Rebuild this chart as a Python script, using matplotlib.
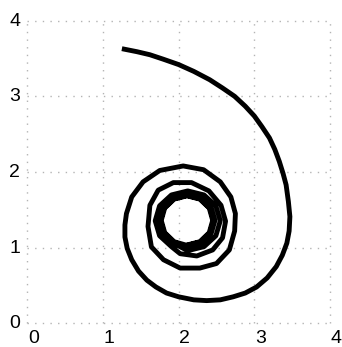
import matplotlib
matplotlib.use("Agg")
import matplotlib.pyplot as plt
import matplotlib.transforms as mtransforms

# Trajectory points (x, y), in drawing order
x_outer = [1.25, 1.45, 1.62, 1.80, 2.00, 2.20, 2.41, 2.58, 2.74, 2.88, 3.00, 3.10,
           3.20, 3.27, 3.33, 3.38, 3.42, 3.45, 3.47, 3.46, 3.43, 3.37, 3.29, 3.17,
           3.03, 2.88, 2.72, 2.55, 2.37, 2.20]
y_outer = [3.63, 3.59, 3.55, 3.49, 3.42, 3.33, 3.22, 3.11, 3.00, 2.87, 2.74, 2.60,
           2.45, 2.30, 2.14, 1.98, 1.83, 1.61, 1.41, 1.22, 1.06, 0.90, 0.75, 0.60,
           0.48, 0.40, 0.35, 0.31, 0.30, 0.31]

x_loop1 = [2.00, 1.84, 1.70, 1.58, 1.47, 1.38, 1.32, 1.29, 1.29, 1.31, 1.38, 1.53,
           1.75, 2.06, 2.33, 2.55, 2.69, 2.75, 2.74, 2.67, 2.50, 2.28]
y_loop1 = [0.35, 0.40, 0.48, 0.57, 0.69, 0.84, 0.99, 1.14, 1.30, 1.45, 1.67, 1.87,
           2.02, 2.08, 2.03, 1.87, 1.67, 1.45, 1.22, 0.97, 0.79, 0.73]

x_loop2 = [2.02, 1.80, 1.64, 1.595, 1.62, 1.73, 1.93, 2.17, 2.40, 2.56, 2.62, 2.58,
           2.45, 2.24, 2.02]
y_loop2 = [0.73, 0.84, 1.01, 1.28, 1.56, 1.76, 1.86, 1.86, 1.75, 1.56, 1.35, 1.13,
           0.97, 0.89, 0.92]

x_loop3 = [1.905, 1.748, 1.690, 1.748, 1.905, 2.120, 2.335, 2.492, 2.550, 2.492,
           2.335, 2.120]
y_loop3 = [1.013, 1.157, 1.355, 1.553, 1.697, 1.750, 1.697, 1.553, 1.355, 1.157,
           1.013, 0.960]

x_loop4 = [1.925, 1.790, 1.740, 1.790, 1.925, 2.110, 2.295, 2.430, 2.480, 2.430,
           2.295, 2.110]
y_loop4 = [1.061, 1.188, 1.360, 1.533, 1.659, 1.705, 1.659, 1.533, 1.360, 1.188,
           1.061, 1.015]

x_loop5 = [1.935, 1.807, 1.760, 1.807, 1.935, 2.110, 2.285, 2.413, 2.460, 2.413,
           2.285, 2.110]
y_loop5 = [1.074, 1.195, 1.360, 1.525, 1.646, 1.690, 1.646, 1.525, 1.360, 1.195,
           1.074, 1.030]

x_loop6 = [1.940, 1.816, 1.770, 1.816, 1.940, 2.110, 2.280, 2.404, 2.450, 2.404,
           2.280, 2.110]
y_loop6 = [1.079, 1.198, 1.360, 1.523, 1.641, 1.685, 1.641, 1.523, 1.360, 1.198,
           1.079, 1.035]

ticks = [0, 1, 2, 3, 4]
tick_labels = ["0", "1", "2", "3", "4"]

xs = x_outer + x_loop1 + x_loop2 + x_loop3 + x_loop4 + x_loop5 + x_loop6
ys = y_outer + y_loop1 + y_loop2 + y_loop3 + y_loop4 + y_loop5 + y_loop6

plt.rcParams["font.family"] = ["Liberation Sans", "DejaVu Sans"]
plt.rcParams["lines.scale_dashes"] = False

fig = plt.figure(figsize=(3.42, 3.47), dpi=100)
ax = fig.add_axes([27.3 / 342, 23.7 / 347, 302.7 / 342, 302.6 / 347])

ax.plot(xs, ys, color="black", linewidth=3.5, solid_capstyle="butt",
        solid_joinstyle="round", zorder=3)

ax.set_xlim(0, 4)
ax.set_ylim(0, 4)
ax.set_xticks(ticks)
ax.set_xticklabels(tick_labels)
ax.set_yticks(ticks)
ax.set_yticklabels(tick_labels)
for s in ax.spines.values():
    s.set_visible(False)
ax.tick_params(length=0, labelsize=14, colors="black")
ax.tick_params(axis="x", pad=5)
ax.tick_params(axis="y", pad=5)
ax.grid(True, color="#b4b4b4", linestyle=(0, (1.0, 4.5)), linewidth=1.0)
ax.set_axisbelow(True)
for gl in ax.get_xgridlines() + ax.get_ygridlines():
    gl.set_clip_on(False)

off = mtransforms.ScaledTranslation(6 / 100, 0, fig.dpi_scale_trans)
for lab in ax.get_xticklabels():
    lab.set_transform(lab.get_transform() + off)
offy = mtransforms.ScaledTranslation(0, 1.5 / 100, fig.dpi_scale_trans)
for lab in ax.get_yticklabels():
    lab.set_transform(lab.get_transform() + offy)

fig.savefig("out.png", dpi=100)
